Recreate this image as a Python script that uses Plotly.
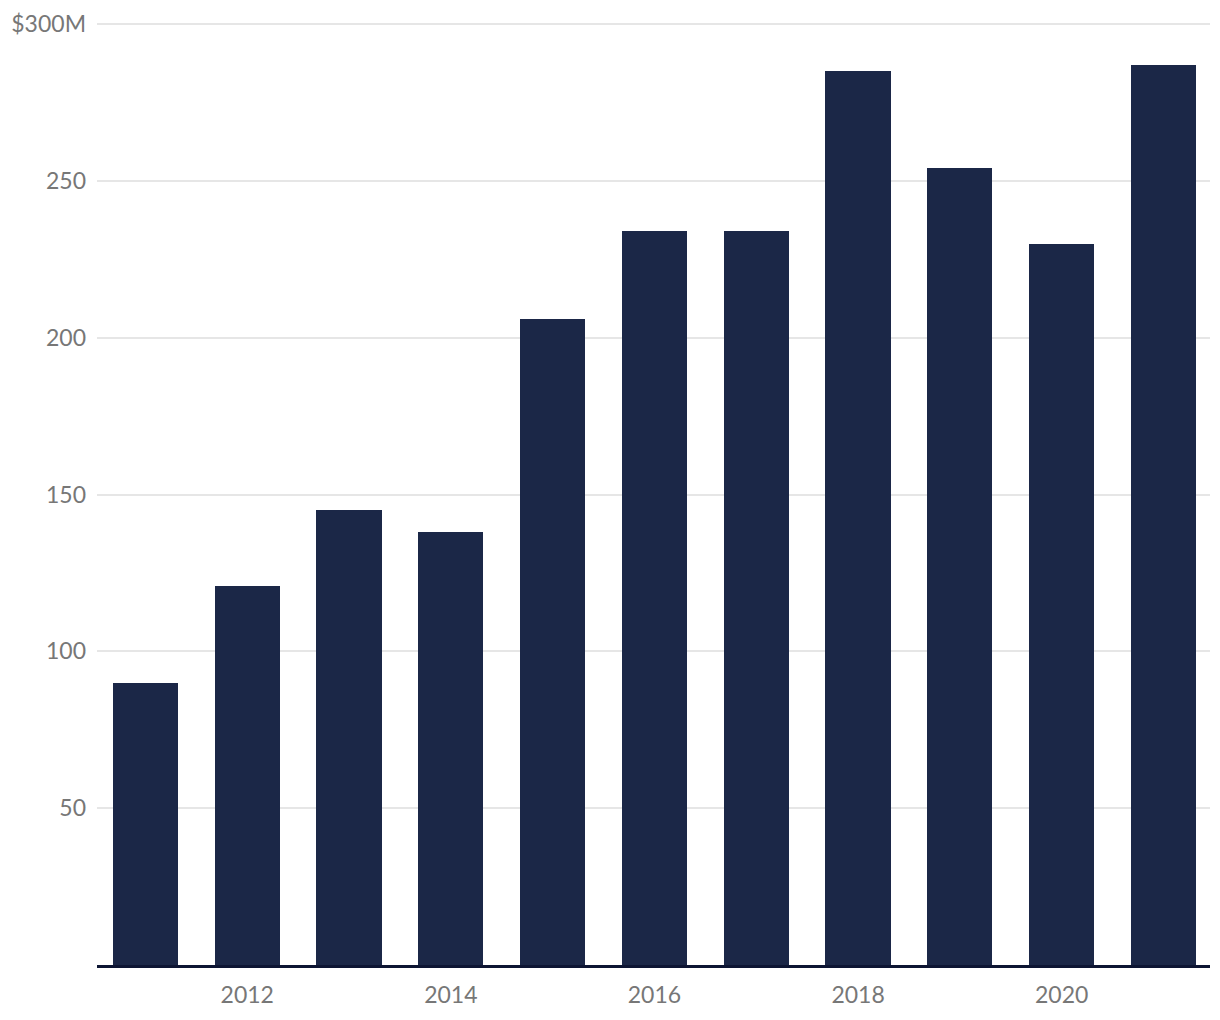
import plotly.graph_objects as go

years = [2011, 2012, 2013, 2014, 2015, 2016, 2017, 2018, 2019, 2020, 2021]
values = [90, 121, 145, 138, 206, 234, 234, 285, 254, 230, 287]
y_tickvals = [50, 100, 150, 200, 250, 300]
y_ticktext = ["50", "100", "150", "200", "250", "$300M"]
x_tickvals = [2012, 2014, 2016, 2018, 2020]

fig = go.Figure(go.Bar(
    x=years, y=values, width=0.64,
    marker=dict(color="#1b2747", line=dict(width=0)),
    hoverinfo="x+y",
))

fig.update_layout(
    width=1220, height=1020,
    margin=dict(l=97, r=10, t=21, b=55),
    paper_bgcolor="white", plot_bgcolor="white",
    font=dict(family="Lato, Noto Sans, sans-serif", size=23, color="#777777"),
    showlegend=False,
    bargap=0,
)
fig.update_xaxes(
    range=[2010.524, 2021.457],
    tickvals=x_tickvals, ticktext=[str(v) for v in x_tickvals],
    showgrid=False, zeroline=False,
    showline=True, linecolor="#0d1533", linewidth=3,
    ticks="", ticklabelstandoff=7,
)
fig.update_yaxes(
    range=[0, 301],
    tickvals=y_tickvals, ticktext=y_ticktext,
    showgrid=True, gridcolor="#e6e6e6", gridwidth=1.5,
    zeroline=False, showline=False, ticks="",
    ticklabelstandoff=10,
)

fig.write_html("out.html")
